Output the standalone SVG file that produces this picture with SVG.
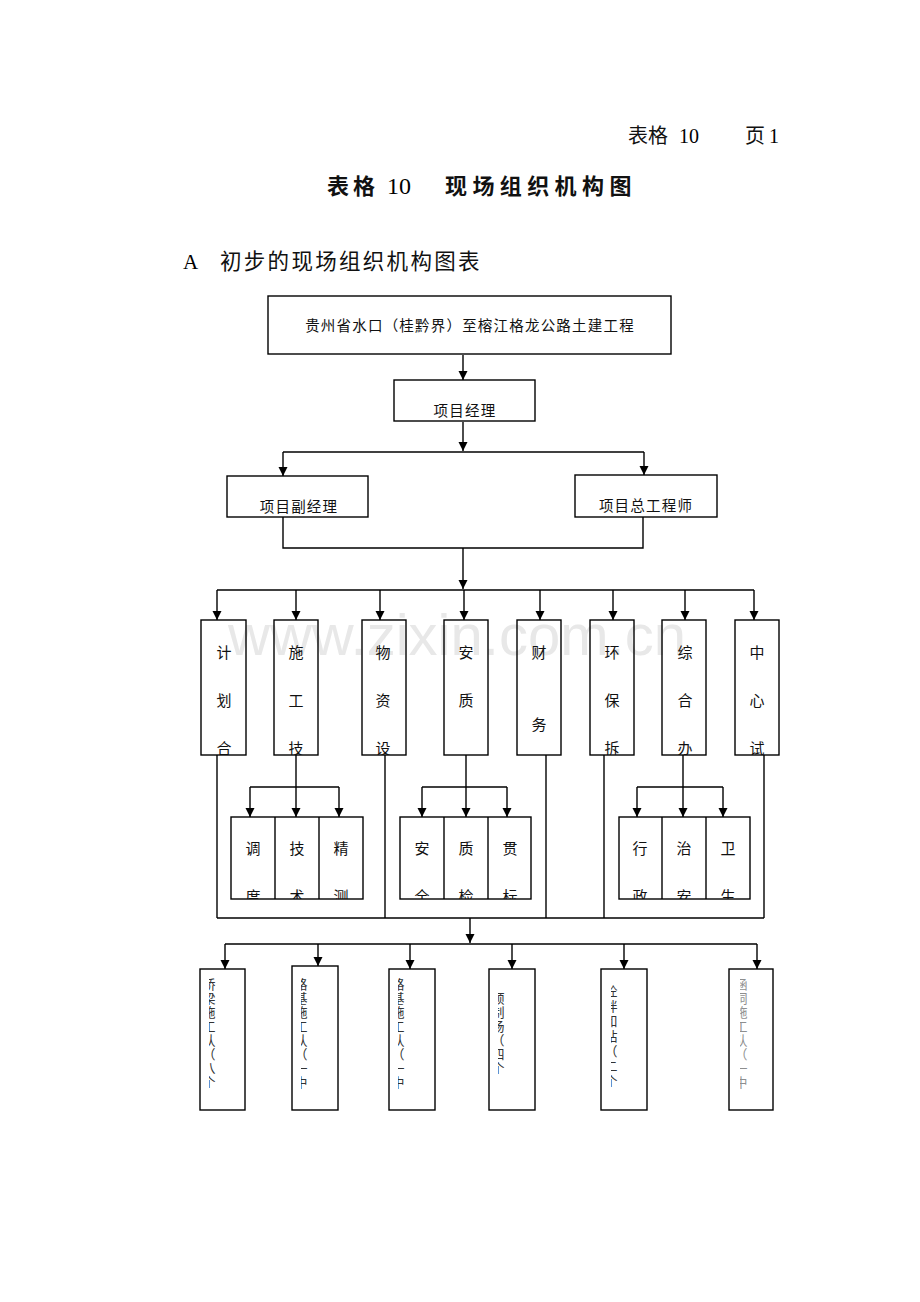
<svg xmlns="http://www.w3.org/2000/svg" width="920" height="1302" viewBox="0 0 920 1302">
<style>
.t{font-family:"Liberation Serif","Noto Sans CJK SC",serif;fill:#000}
.c{font-family:"Noto Sans CJK SC","Liberation Sans",sans-serif;fill:#111}
.box{fill:none;stroke:#000;stroke-width:1.4}
.ln{fill:none;stroke:#000;stroke-width:1.4}
.ar{fill:none;stroke:#000;stroke-width:1.4;marker-end:url(#ah)}
.n{font-size:14.5px;text-anchor:middle;letter-spacing:1.2px}
.v{font-size:15px;text-anchor:middle}
.s{font-size:13px;text-anchor:middle;fill:#333}
</style>
<defs>
<marker id="ah" viewBox="0 0 10 10" refX="10" refY="5" markerWidth="9" markerHeight="10" markerUnits="userSpaceOnUse" orient="auto">
<path d="M0,0 L10,5 L0,10 z" fill="#000"/>
</marker>
<clipPath id="d1"><rect x="201" y="620" width="45" height="135"/></clipPath>
<clipPath id="d2"><rect x="274" y="620" width="44" height="135"/></clipPath>
<clipPath id="d3"><rect x="362" y="620" width="44" height="135"/></clipPath>
<clipPath id="d4"><rect x="444" y="620" width="44" height="135"/></clipPath>
<clipPath id="d5"><rect x="517" y="620" width="44" height="135"/></clipPath>
<clipPath id="d6"><rect x="590" y="620" width="44" height="135"/></clipPath>
<clipPath id="d7"><rect x="662" y="620" width="44" height="135"/></clipPath>
<clipPath id="d8"><rect x="735" y="620" width="44" height="135"/></clipPath>
<clipPath id="sb"><rect x="200" y="817" width="560" height="82"/></clipPath>
<clipPath id="b1"><rect x="209" y="969" width="36" height="141"/></clipPath>
<clipPath id="b2"><rect x="301" y="966" width="37" height="144"/></clipPath>
<clipPath id="b3"><rect x="398" y="969" width="37" height="141"/></clipPath>
<clipPath id="b4"><rect x="498" y="969" width="37" height="141"/></clipPath>
<clipPath id="b5"><rect x="611" y="969" width="36" height="141"/></clipPath>
<clipPath id="b6"><rect x="740" y="969" width="33" height="141"/></clipPath>
</defs>

<rect width="920" height="1302" fill="#fff"/>

<!-- watermark -->
<text x="228" y="655" font-family="Liberation Sans,Arial,sans-serif" font-size="58" fill="#e8e8e8" textLength="458" lengthAdjust="spacingAndGlyphs">www.zixin.com.cn</text>

<!-- header texts -->
<g id="header">
<text class="c" x="628" y="143" font-size="20">表格</text>
<text class="t" x="679" y="143" font-size="20">10</text>
<text class="c" x="745" y="143" font-size="20">页</text>
<text class="t" x="769" y="143" font-size="20">1</text>
<text class="c" x="327" y="194" font-size="22" font-weight="bold" letter-spacing="4">表格</text>
<text class="t" x="387" y="194" font-size="24">10</text>
<text class="c" x="445" y="194" font-size="22" font-weight="bold" letter-spacing="5.4">现场组织机构图</text>
<text class="t" x="183" y="269" font-size="21">A</text>
<text class="c" x="220" y="269" font-size="21.5" letter-spacing="2.3">初步的现场组织机构图表</text>
</g>

<!-- connectors -->
<g id="connectors">
<line class="ar" x1="463" y1="355" x2="463" y2="380"/>
<line class="ar" x1="463" y1="422" x2="463" y2="451"/>
<line class="ln" x1="283" y1="452" x2="644" y2="452"/>
<line class="ar" x1="283" y1="452" x2="283" y2="476"/>
<line class="ar" x1="644" y1="452" x2="644" y2="475"/>
<polyline class="ln" points="283,517 283,548 643,548 643,517"/>
<line class="ar" x1="463" y1="548" x2="463" y2="589"/>
<line class="ln" x1="217" y1="590" x2="754" y2="590"/>
<line class="ar" x1="217" y1="590" x2="217" y2="620"/>
<line class="ar" x1="296" y1="590" x2="296" y2="620"/>
<line class="ar" x1="380" y1="590" x2="380" y2="620"/>
<line class="ar" x1="464" y1="590" x2="464" y2="620"/>
<line class="ar" x1="540" y1="590" x2="540" y2="620"/>
<line class="ar" x1="613" y1="590" x2="613" y2="620"/>
<line class="ar" x1="685" y1="590" x2="685" y2="620"/>
<line class="ar" x1="754" y1="590" x2="754" y2="620"/>

<line class="ar" x1="296" y1="755" x2="296" y2="817"/>
<line class="ln" x1="250" y1="787" x2="339" y2="787"/>
<line class="ar" x1="250" y1="787" x2="250" y2="817"/>
<line class="ar" x1="339" y1="787" x2="339" y2="817"/>
<line class="ar" x1="466" y1="755" x2="466" y2="817"/>
<line class="ln" x1="422" y1="787" x2="507" y2="787"/>
<line class="ar" x1="422" y1="787" x2="422" y2="817"/>
<line class="ar" x1="507" y1="787" x2="507" y2="817"/>
<line class="ar" x1="683" y1="755" x2="683" y2="817"/>
<line class="ln" x1="637" y1="787" x2="723" y2="787"/>
<line class="ar" x1="637" y1="787" x2="637" y2="817"/>
<line class="ar" x1="723" y1="787" x2="723" y2="817"/>

<line class="ln" x1="217" y1="755" x2="217" y2="918"/>
<line class="ln" x1="385" y1="755" x2="385" y2="918"/>
<line class="ln" x1="546" y1="755" x2="546" y2="918"/>
<line class="ln" x1="604" y1="755" x2="604" y2="918"/>
<line class="ln" x1="764" y1="755" x2="764" y2="918"/>
<line class="ln" x1="217" y1="918" x2="764" y2="918"/>
<line class="ar" x1="470" y1="918" x2="470" y2="943"/>
<line class="ln" x1="225" y1="944" x2="757" y2="944"/>
<line class="ar" x1="225" y1="944" x2="225" y2="969"/>
<line class="ar" x1="318" y1="944" x2="318" y2="966"/>
<line class="ar" x1="410" y1="944" x2="410" y2="969"/>
<line class="ar" x1="512" y1="944" x2="512" y2="969"/>
<line class="ar" x1="624" y1="944" x2="624" y2="969"/>
<line class="ar" x1="757" y1="944" x2="757" y2="969"/>
</g>

<!-- top nodes -->
<g id="n-project"><rect class="box" x="268" y="296" width="403" height="58"/><text class="c n" x="470" y="331">贵州省水口（桂黔界）至榕江格龙公路土建工程</text></g>
<g id="n-pm"><rect class="box" x="394" y="380" width="141" height="41"/><text class="c n" x="465" y="416">项目经理</text></g>
<g id="n-dpm"><rect class="box" x="227" y="476" width="141" height="41"/><text class="c n" x="299" y="512">项目副经理</text></g>
<g id="n-ce"><rect class="box" x="575" y="475" width="142" height="42"/><text class="c n" x="646" y="511">项目总工程师</text></g>

<!-- departments -->
<g id="d-plan"><rect class="box" x="201" y="620" width="45" height="135"/><text class="c v" clip-path="url(#d1)"><tspan x="224" y="658">计</tspan><tspan x="224" y="706">划</tspan><tspan x="224" y="754">合</tspan></text></g>
<g id="d-tech"><rect class="box" x="274" y="620" width="44" height="135"/><text class="c v" clip-path="url(#d2)"><tspan x="296" y="658">施</tspan><tspan x="296" y="706">工</tspan><tspan x="296" y="754">技</tspan></text></g>
<g id="d-mat"><rect class="box" x="362" y="620" width="44" height="135"/><text class="c v" clip-path="url(#d3)"><tspan x="383" y="658">物</tspan><tspan x="383" y="706">资</tspan><tspan x="383" y="754">设</tspan></text></g>
<g id="d-safe"><rect class="box" x="444" y="620" width="44" height="135"/><text class="c v" clip-path="url(#d4)"><tspan x="466" y="658">安</tspan><tspan x="466" y="706">质</tspan></text></g>
<g id="d-fin"><rect class="box" x="517" y="620" width="44" height="135"/><text class="c v" clip-path="url(#d5)"><tspan x="539" y="658">财</tspan><tspan x="539" y="730">务</tspan></text></g>
<g id="d-env"><rect class="box" x="590" y="620" width="44" height="135"/><text class="c v" clip-path="url(#d6)"><tspan x="612" y="658">环</tspan><tspan x="612" y="706">保</tspan><tspan x="612" y="754">拆</tspan></text></g>
<g id="d-off"><rect class="box" x="662" y="620" width="44" height="135"/><text class="c v" clip-path="url(#d7)"><tspan x="685" y="658">综</tspan><tspan x="685" y="706">合</tspan><tspan x="685" y="754">办</tspan></text></g>
<g id="d-lab"><rect class="box" x="735" y="620" width="44" height="135"/><text class="c v" clip-path="url(#d8)"><tspan x="757" y="658">中</tspan><tspan x="757" y="706">心</tspan><tspan x="757" y="754">试</tspan></text></g>

<!-- sub departments -->
<g id="s-group1"><rect class="box" x="231" y="817" width="132" height="82"/><line class="ln" x1="275" y1="817" x2="275" y2="899"/><line class="ln" x1="319" y1="817" x2="319" y2="899"/>
<text class="c v" clip-path="url(#sb)"><tspan x="253" y="854">调</tspan><tspan x="253" y="902">度</tspan></text>
<text class="c v" clip-path="url(#sb)"><tspan x="297" y="854">技</tspan><tspan x="297" y="902">术</tspan></text>
<text class="c v" clip-path="url(#sb)"><tspan x="341" y="854">精</tspan><tspan x="341" y="902">测</tspan></text></g>
<g id="s-group2"><rect class="box" x="400" y="817" width="131" height="82"/><line class="ln" x1="444" y1="817" x2="444" y2="899"/><line class="ln" x1="488" y1="817" x2="488" y2="899"/>
<text class="c v" clip-path="url(#sb)"><tspan x="422" y="854">安</tspan><tspan x="422" y="902">全</tspan></text>
<text class="c v" clip-path="url(#sb)"><tspan x="466" y="854">质</tspan><tspan x="466" y="902">检</tspan></text>
<text class="c v" clip-path="url(#sb)"><tspan x="510" y="854">贯</tspan><tspan x="510" y="902">标</tspan></text></g>
<g id="s-group3"><rect class="box" x="619" y="817" width="131" height="82"/><line class="ln" x1="662" y1="817" x2="662" y2="899"/><line class="ln" x1="706" y1="817" x2="706" y2="899"/>
<text class="c v" clip-path="url(#sb)"><tspan x="640" y="854">行</tspan><tspan x="640" y="902">政</tspan></text>
<text class="c v" clip-path="url(#sb)"><tspan x="684" y="854">治</tspan><tspan x="684" y="902">安</tspan></text>
<text class="c v" clip-path="url(#sb)"><tspan x="728" y="854">卫</tspan><tspan x="728" y="902">生</tspan></text></g>

<!-- bottom teams -->
<g id="b-bridge"><rect class="box" x="200" y="969" width="45" height="141"/>
<text class="c s" clip-path="url(#b1)"><tspan x="209" y="989">桥</tspan><tspan x="209" y="1003">梁</tspan><tspan x="209" y="1017">施</tspan><tspan x="209" y="1031">工</tspan><tspan x="209" y="1045">队</tspan><tspan x="209" y="1059">（</tspan><tspan x="209" y="1073">八</tspan><tspan x="209" y="1087">个</tspan><tspan x="209" y="1101">）</tspan></text></g>
<g id="b-road1"><rect class="box" x="292" y="966" width="46" height="144"/>
<text class="c s" clip-path="url(#b2)"><tspan x="301" y="989">路</tspan><tspan x="301" y="1003">基</tspan><tspan x="301" y="1017">施</tspan><tspan x="301" y="1031">工</tspan><tspan x="301" y="1045">队</tspan><tspan x="301" y="1059">（</tspan><tspan x="301" y="1073">一</tspan><tspan x="301" y="1087">中</tspan><tspan x="301" y="1101">）</tspan></text></g>
<g id="b-road2"><rect class="box" x="389" y="969" width="46" height="141"/>
<text class="c s" clip-path="url(#b3)"><tspan x="398" y="989">路</tspan><tspan x="398" y="1003">基</tspan><tspan x="398" y="1017">施</tspan><tspan x="398" y="1031">工</tspan><tspan x="398" y="1045">队</tspan><tspan x="398" y="1059">（</tspan><tspan x="398" y="1073">一</tspan><tspan x="398" y="1087">中</tspan><tspan x="398" y="1101">）</tspan></text></g>
<g id="b-precast"><rect class="box" x="489" y="969" width="46" height="141"/>
<text class="c s" clip-path="url(#b4)"><tspan x="498" y="1003">预</tspan><tspan x="498" y="1017">制</tspan><tspan x="498" y="1031">场</tspan><tspan x="498" y="1045">（</tspan><tspan x="498" y="1059">四</tspan><tspan x="498" y="1073">个</tspan><tspan x="498" y="1087">）</tspan></text></g>
<g id="b-mix"><rect class="box" x="601" y="969" width="46" height="141"/>
<text class="c s" clip-path="url(#b5)"><tspan x="611" y="996">砼</tspan><tspan x="611" y="1011">拌</tspan><tspan x="611" y="1026">和</tspan><tspan x="611" y="1041">站</tspan><tspan x="611" y="1056">（</tspan><tspan x="611" y="1071">二</tspan><tspan x="611" y="1086">个</tspan><tspan x="611" y="1101">）</tspan></text></g>
<g id="b-culvert"><rect class="box" x="729" y="969" width="44" height="141"/>
<text class="c s" clip-path="url(#b6)" opacity="0.55"><tspan x="741" y="989">涵</tspan><tspan x="741" y="1003">洞</tspan><tspan x="741" y="1017">施</tspan><tspan x="741" y="1031">工</tspan><tspan x="741" y="1045">队</tspan><tspan x="741" y="1059">（</tspan><tspan x="741" y="1073">一</tspan><tspan x="741" y="1087">中</tspan><tspan x="741" y="1101">）</tspan></text></g>
</svg>
